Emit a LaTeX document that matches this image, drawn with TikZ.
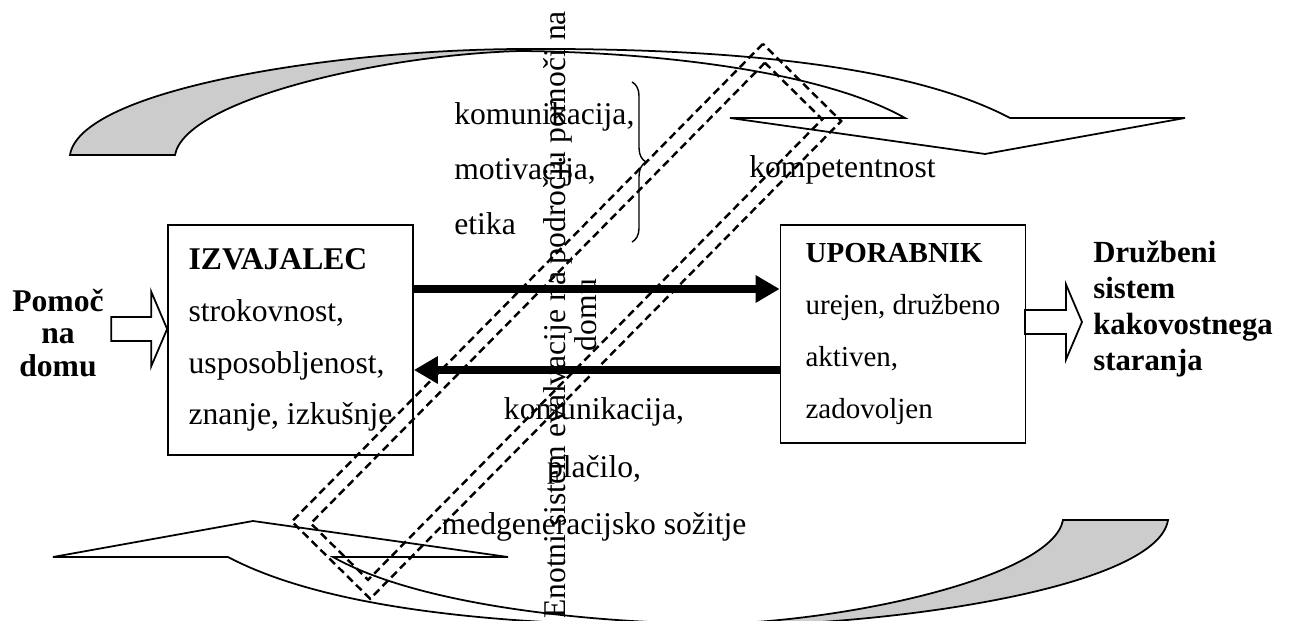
\documentclass[tikz,border=0pt]{standalone}
\usepackage{fontspec}
\setmainfont{Liberation Serif}
\usetikzlibrary{arrows.meta,decorations.pathreplacing}

\tikzset{
  actorbox/.style={draw, line width=1pt, align=left, minimum width=4.9cm, inner sep=0pt,
    font=\fontsize{#1}{29.5}\selectfont},
  textblock/.style={inner sep=0pt, font=\fontsize{18}{#1}\selectfont},
  headtext/.style={inner sep=0pt, font=\fontsize{18}{#1}\selectfont\bfseries},
  flowarrow/.style={line width=4.5pt, -{Triangle[length=4.8mm 0 0, width=5.2mm 0 0]}},
  hollowline/.style={draw, line width=1pt, fill=white, line join=miter},
  bandline/.style={line width=1pt, line join=miter},
  evalframe/.style={draw, line width=1.4pt, dash pattern=on 4.5pt off 2.6pt, inner sep=0pt},
  curlybrace/.style={decorate, decoration={brace, amplitude=8pt}, line width=0.8pt}
}

\newcommand{\curvedband}{%
  \fill[black!20] (70,155) .. controls (80,90) and (330,50) .. (520,49)
    -- (520,51) .. controls (380,55) and (185,100) .. (175,155) -- cycle;
  \draw[bandline] (175,155) -- (70,155) .. controls (80,90) and (330,50) .. (520,49)
    .. controls (700,48) and (900,60) .. (1010,118) -- (1185,118) -- (985,154)
    -- (730,118) -- (905,118) .. controls (820,70) and (650,52) .. (520,51)
    .. controls (380,55) and (185,100) .. (175,155) -- cycle;
}
\newcommand{\hollowarrow}[2]{%
  \draw[hollowline] (#1) -- ++(-16,-37.5) -- ++(0,25.5) -- ++(-#2,0) -- ++(0,24)
    -- ++(#2,0) -- ++(0,25.5) -- cycle;
}

\begin{document}
\begin{tikzpicture}[x=0.02cm, y=-0.02cm]
\useasboundingbox (0,0) rectangle (1297,621);

% curved arrows
\curvedband
\begin{scope}[rotate around={180:(619,337.5)}]
  \curvedband
\end{scope}

% evaluation frames
\node[evalframe, minimum width=13.42cm, minimum height=2.2cm, rotate=45.4] (outerframe) at (566.5,321.3) {};
\node[evalframe, minimum width=12.94cm, minimum height=1.61cm, rotate=45.4] (innerframe) at (566.5,321.3) {};

\node[actorbox=18, minimum height=4.6cm] (izv) at (290.5,340)
  {\textbf{IZVAJALEC}\\strokovnost,\\usposobljenost,\\znanje, izkušnje};
\node[actorbox=16.5, minimum height=4.36cm] (upo) at (903,334)
  {\textbf{UPORABNIK}\\urejen, družbeno\\aktiven,\\zadovoljen};

\node[headtext=18.5, align=center] (pomoc) at (58,333) {Pomoč\\na\\domu};
\node[headtext=20.4, align=left, anchor=west, font=\fontsize{17.5}{20.4}\selectfont\bfseries]
  (druzbeni) at (1093,309) {Družbeni\\sistem\\kakovostnega\\staranja};

\node[textblock=31.2, align=left, anchor=west] (giving) at (454,168.5)
  {komunikacija,\\motivacija,\\etika};
\node[textblock=32.9, align=center] (receiving) at (594,469.5)
  {komunikacija,\\plačilo,\\medgeneracijsko sožitje};
\node[textblock=18, anchor=west] (competence) at (749,170) {kompetentnost};
\node[textblock=18, rotate=90, align=center] (evaltext) at (570,315)
  {Enotni sistem evalvacije na področju pomoči na\\domu};

\draw[curlybrace] (632,82) -- (632,242);

% flows between the boxes
\coordinate (toplevel) at (0,289);
\coordinate (lowlevel) at (0,370);
\draw[flowarrow] (izv.east |- toplevel) -- (upo.west |- toplevel);
\draw[flowarrow] (upo.west |- lowlevel) -- (izv.east |- lowlevel);

\coordinate (inlevel) at (0,329);
\coordinate (intip) at (izv.west |- inlevel);
\coordinate (outtip) at (1082,322);
\hollowarrow{intip}{40}
\hollowarrow{outtip}{41}
\end{tikzpicture}
\end{document}
